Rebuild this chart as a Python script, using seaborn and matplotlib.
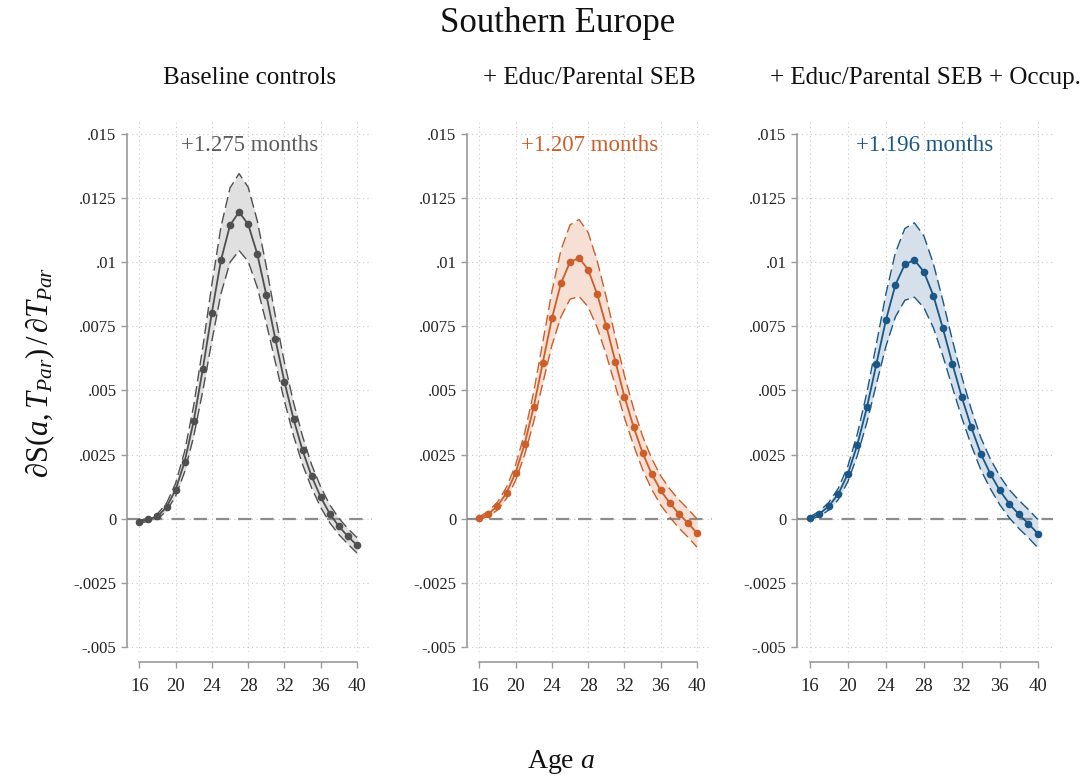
import numpy as np
import pandas as pd
import matplotlib
matplotlib.use("Agg")
import matplotlib.pyplot as plt
import seaborn as sns

# ---------------- data (values in units of 1e-3) ----------------
ages = list(range(16, 41))

est_base = [-0.13, -0.03, 0.09, 0.45, 1.13, 2.23, 3.82, 5.84, 8.04, 10.08, 11.45, 11.96,
            11.48, 10.33, 8.73, 7.00, 5.34, 3.89, 2.66, 1.65, 0.84, 0.19, -0.30, -0.69, -1.04]
hw_base = [0.05, 0.07, 0.10, 0.15, 0.25, 0.40, 0.60, 0.85, 1.10, 1.30, 1.45, 1.50,
           1.45, 1.30, 1.10, 0.90, 0.75, 0.65, 0.55, 0.45, 0.40, 0.35, 0.32, 0.30, 0.30]

est_educ = [0.02, 0.19, 0.49, 1.01, 1.79, 2.92, 4.37, 6.09, 7.81, 9.18, 10.01, 10.17,
            9.71, 8.75, 7.51, 6.13, 4.76, 3.59, 2.57, 1.75, 1.10, 0.61, 0.19, -0.17, -0.56]
hw_educ = [0.05, 0.10, 0.15, 0.22, 0.30, 0.42, 0.58, 0.80, 1.05, 1.30, 1.45, 1.50,
           1.45, 1.30, 1.12, 0.95, 0.82, 0.72, 0.65, 0.60, 0.57, 0.55, 0.55, 0.55, 0.55]

est_occ = [0.02, 0.19, 0.49, 0.97, 1.75, 2.89, 4.34, 6.03, 7.74, 9.12, 9.92, 10.09,
           9.63, 8.70, 7.43, 6.05, 4.73, 3.56, 2.53, 1.75, 1.10, 0.58, 0.17, -0.19, -0.58]
hw_occ = [0.05, 0.10, 0.15, 0.22, 0.30, 0.42, 0.58, 0.78, 1.02, 1.25, 1.40, 1.45,
          1.40, 1.25, 1.08, 0.92, 0.80, 0.70, 0.63, 0.58, 0.56, 0.55, 0.55, 0.55, 0.55]

panel_titles = ["Baseline controls", "+ Educ/Parental SEB", "+ Educ/Parental SEB + Occup."]
annotations = ["+1.275 months", "+1.207 months", "+1.196 months"]
main_title = "Southern Europe"

ytick_vals = [0.015, 0.0125, 0.01, 0.0075, 0.005, 0.0025, 0.0, -0.0025, -0.005]
ytick_labels = [".015", ".0125", ".01", ".0075", ".005", ".0025", "0", "-.0025", "-.005"]
xtick_vals = [16, 20, 24, 28, 32, 36, 40]

# ---------------- style ----------------
sns.set_theme(style="white")
plt.rcParams["font.family"] = ["Liberation Serif", "DejaVu Serif"]
plt.rcParams["mathtext.fontset"] = "custom"
plt.rcParams["mathtext.rm"] = "Liberation Serif"
plt.rcParams["mathtext.it"] = "Liberation Serif:italic"
plt.rcParams["mathtext.fallback"] = "stix"

line_colors = ["#4f4f4f", "#cc5e2a", "#1b5786"]
fill_colors = ["#e0e0e0", "#f6dfd4", "#d5e0ea"]
text_colors = ["#5c5c5c", "#cc5e2a", "#1b5786"]

series = [(est_base, hw_base), (est_educ, hw_educ), (est_occ, hw_occ)]

fig = plt.figure(figsize=(10.92, 7.82), dpi=100)
W, H = 1092.0, 782.0
bottom_px, top_px = 652.0, 120.0
axes_px = [(127, 244.5), (467, 244.5), (797, 256)]

for i, ((est, hw), (lpx, wpx)) in enumerate(zip(series, axes_px)):
    ax = fig.add_axes([lpx / W, (H - bottom_px) / H, wpx / W, (bottom_px - top_px) / H])
    e = np.array(est) * 1e-3
    h = np.array(hw) * 1e-3
    df = pd.DataFrame({"age": ages, "est": e, "lo": e - h, "hi": e + h})

    ax.fill_between(df["age"], df["lo"], df["hi"], color=fill_colors[i], lw=0, zorder=2)
    ax.axhline(0, color="#8c8c8c", lw=1.6, ls=(0, (6, 4)), zorder=3)
    sns.lineplot(data=df, x="age", y="lo", ax=ax, color=line_colors[i], lw=1.0,
                 zorder=4, linestyle=(0, (8, 3.5)))
    sns.lineplot(data=df, x="age", y="hi", ax=ax, color=line_colors[i], lw=1.0,
                 zorder=4, linestyle=(0, (8, 3.5)))
    sns.lineplot(data=df, x="age", y="est", ax=ax, color=line_colors[i], lw=1.3,
                 marker="o", markersize=5.5, markeredgewidth=0, zorder=5)

    ax.set_xlim(14.64, 41.6)
    ax.set_ylim(-0.0052, 0.01555)
    ax.set_xlabel("")
    ax.set_ylabel("")

    ax.grid(True, color="#c9c9c9", lw=0.8, ls=(0, (1, 3)), zorder=0)
    ax.set_axisbelow(True)
    for s in ["top", "right"]:
        ax.spines[s].set_visible(False)
    ax.spines["left"].set_bounds(-0.005, 0.015)
    ax.spines["bottom"].set_bounds(16, 40)
    ax.spines["bottom"].set_position(("outward", 7))
    for s in ["left", "bottom"]:
        ax.spines[s].set_color("#9a9a9a")
        ax.spines[s].set_linewidth(1.2)
    ax.tick_params(axis="both", which="major", direction="out", length=4.5, width=1.0,
                   color="#9a9a9a", left=True, bottom=True, pad=3, labelcolor="#222222")
    ax.tick_params(axis="x", labelsize=13.5, pad=7)
    ax.tick_params(axis="y", labelsize=12)
    ax.set_xticks(xtick_vals)
    ax.set_xticklabels([str(v) for v in xtick_vals])
    ax.set_yticks(ytick_vals)
    ax.set_yticklabels(ytick_labels)

    ax.text(0.5, 0.953, annotations[i], transform=ax.transAxes, ha="center", va="center",
            fontsize=16.5, color=text_colors[i])
    fig.text((lpx + wpx / 2) / W, (H - 78) / H, panel_titles[i], ha="center", va="center",
             fontsize=18, color="#111111")

fig.text(558 / W, (H - 23) / H, main_title, ha="center", va="center", fontsize=25, color="#111111")
fig.text(40 / W, (H - 372) / H, r"$\partial \mathrm{S}(a,T_{Par})\,/\,\partial T_{Par}$",
         rotation=90, ha="center", va="center", fontsize=22, color="#111111")
fig.text(561 / W, (H - 762) / H, r"Age $a$", ha="center", va="center", fontsize=20, color="#111111")

fig.savefig("out.png", dpi=100)
